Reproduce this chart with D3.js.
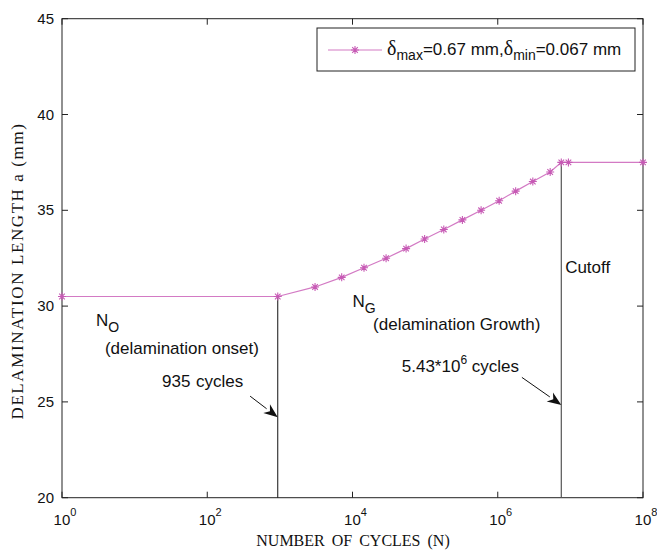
<!DOCTYPE html>
<html lang="en">
  <head>
    <meta charset="UTF-8" />
    <title>Delamination length vs cycles</title>
    <script src="https://cdn.jsdelivr.net/npm/d3@7"></script>
    <style>
      body { margin: 0; background: #fff; }
      svg { display: block; }
      .sans { font-family: Arial, "Liberation Sans", sans-serif; fill: #111; }
      .serif { font-family: "Times New Roman", "Liberation Serif", serif; fill: #111; }
    </style>
  </head>
  <body>
    <svg id="chart" width="657" height="550"></svg>
    <script>
      // cycles N and delamination length a (mm)
      const cycles = [1, 935, 3050, 7100, 14400, 29000, 54700, 98400, 180700, 326000,
                      590000, 1.045e6, 1.765e6, 3.04e6, 5.27e6, 7.5e6, 9.4e6, 1e8];
      const lengths = [30.5, 30.5, 31, 31.5, 32, 32.5, 33, 33.5, 34, 34.5,
                       35, 35.5, 36, 36.5, 37, 37.5, 37.5, 37.5];
      const xTicks = [1, 1e2, 1e4, 1e6, 1e8];
      const yTicks = [20, 25, 30, 35, 40, 45];

      // annotation anchors in data units
      const onsetN = 935, cutoffN = 7.5e6;
      const arrows = [
        { from: [389, 25.3], to: [935, 24.2] },
        { from: [2.15e6, 26.28], to: [7.5e6, 24.84] }
      ];

      const plotL = 62, plotR = 643, plotT = 18.7, plotB = 497.7;
      const lineColor = "#c75ab5";

      const svg = d3.select("#chart");
      const x = d3.scaleLog().domain([1, 1e8]).range([plotL, plotR]);
      const y = d3.scaleLinear().domain([20, 45]).range([plotB, plotT]);

      // frame
      svg.append("rect")
        .attr("x", plotL).attr("y", plotT)
        .attr("width", plotR - plotL).attr("height", plotB - plotT)
        .attr("fill", "none").attr("stroke", "#222").attr("stroke-width", 1);

      // inward ticks on all four sides
      const tickLen = 6;
      const g = svg.append("g").attr("stroke", "#222").attr("stroke-width", 1);
      xTicks.forEach(t => {
        g.append("line").attr("x1", x(t)).attr("x2", x(t)).attr("y1", plotB).attr("y2", plotB - tickLen);
        g.append("line").attr("x1", x(t)).attr("x2", x(t)).attr("y1", plotT).attr("y2", plotT + tickLen);
      });
      yTicks.forEach(t => {
        g.append("line").attr("x1", plotL).attr("x2", plotL + tickLen).attr("y1", y(t)).attr("y2", y(t));
        g.append("line").attr("x1", plotR).attr("x2", plotR - tickLen).attr("y1", y(t)).attr("y2", y(t));
      });

      // tick labels
      xTicks.forEach(t => {
        const lab = svg.append("text").attr("class", "sans")
          .attr("x", x(t) + 3).attr("y", plotB + 27)
          .attr("text-anchor", "middle").style("font-size", "15px");
        lab.append("tspan").text("10");
        lab.append("tspan").attr("dy", -9).style("font-size", "11px").text(Math.round(Math.log10(t)));
      });
      yTicks.forEach(t => {
        svg.append("text").attr("class", "sans")
          .attr("x", plotL - 8).attr("y", y(t) + 5)
          .attr("text-anchor", "end").style("font-size", "15px")
          .text(t);
      });

      // axis titles
      svg.append("text").attr("class", "serif")
        .attr("x", 353).attr("y", 546)
        .attr("text-anchor", "middle")
        .style("font-size", "16px").style("word-spacing", "3px")
        .text("NUMBER OF CYCLES (N)");
      svg.append("text").attr("class", "serif")
        .attr("transform", "translate(23,271) rotate(-90)")
        .attr("text-anchor", "middle")
        .style("font-size", "17px").style("letter-spacing", "1.6px")
        .text("DELAMINATION LENGTH a (mm)");

      // vertical markers
      svg.append("line")
        .attr("x1", x(onsetN)).attr("x2", x(onsetN))
        .attr("y1", y(30.5)).attr("y2", plotB)
        .attr("stroke", "#111").attr("stroke-width", 1);
      svg.append("line")
        .attr("x1", x(cutoffN)).attr("x2", x(cutoffN))
        .attr("y1", y(37.5)).attr("y2", plotB)
        .attr("stroke", "#555").attr("stroke-width", 1.2);

      // data line and asterisk markers
      const pts = cycles.map((c, i) => [c, lengths[i]]);
      const line = d3.line().x(d => x(d[0])).y(d => y(d[1]));
      svg.append("path")
        .attr("d", line(pts))
        .attr("fill", "none").attr("stroke", "#d37ac4").attr("stroke-width", 1.2);

      const star = "M-4,0L4,0M0,-4L0,4M-2.8,-2.8L2.8,2.8M-2.8,2.8L2.8,-2.8";
      svg.append("g").selectAll("path")
        .data(pts).join("path")
        .attr("transform", d => `translate(${x(d[0])},${y(d[1])})`)
        .attr("d", star)
        .attr("fill", "none").attr("stroke", lineColor).attr("stroke-width", 1.1);

      // arrows
      arrows.forEach(a => {
        const x1 = x(a.from[0]), y1 = y(a.from[1]);
        const x2 = x(a.to[0]), y2 = y(a.to[1]);
        const ang = Math.atan2(y2 - y1, x2 - x1);
        const hl = 14, hw = 5.5;
        const bx = x2 - hl * Math.cos(ang), by = y2 - hl * Math.sin(ang);
        svg.append("line")
          .attr("x1", x1).attr("y1", y1).attr("x2", bx).attr("y2", by)
          .attr("stroke", "#111").attr("stroke-width", 1);
        const p1 = [bx + hw * Math.sin(ang), by - hw * Math.cos(ang)];
        const p2 = [bx - hw * Math.sin(ang), by + hw * Math.cos(ang)];
        const mid = [x2 - hl * 0.7 * Math.cos(ang), y2 - hl * 0.7 * Math.sin(ang)];
        svg.append("path")
          .attr("d", `M${x2},${y2}L${p1}L${mid}L${p2}Z`)
          .attr("fill", "#111");
      });

      // annotations
      const ann = (n, a) => svg.append("text").attr("class", "sans")
        .attr("x", x(n)).attr("y", y(a)).style("font-size", "17px");

      const no = ann(2.94, 28.96);
      no.append("tspan").text("N");
      no.append("tspan").attr("dy", 6).style("font-size", "14px").text("O");
      ann(3.9, 27.5).text("(delamination onset)");
      ann(23.8, 25.78).text("935 cycles").style("word-spacing", "1px");

      const ng = ann(1.0e4, 29.95);
      ng.append("tspan").text("N");
      ng.append("tspan").attr("dy", 6).style("font-size", "14px").text("G");
      ann(19200, 28.75).text("(delamination Growth)");
      const c6 = ann(47700, 26.58);
      c6.append("tspan").text("5.43*10");
      c6.append("tspan").attr("dy", -8).style("font-size", "12px").text("6");
      c6.append("tspan").attr("dy", 8).text(" cycles");
      ann(8.47e6, 31.73).text("Cutoff");

      // legend
      const lx = 317, ly = 28, lw = 318, lh = 43;
      svg.append("rect")
        .attr("x", lx).attr("y", ly).attr("width", lw).attr("height", lh)
        .attr("fill", "#fff").attr("stroke", "#222").attr("stroke-width", 1);
      svg.append("line")
        .attr("x1", lx + 11).attr("x2", lx + 65)
        .attr("y1", ly + 22).attr("y2", ly + 22)
        .attr("stroke", "#d37ac4").attr("stroke-width", 1.2);
      svg.append("path")
        .attr("transform", `translate(${lx + 38},${ly + 22})`)
        .attr("d", star)
        .attr("fill", "none").attr("stroke", lineColor).attr("stroke-width", 1.1);
      const lt = svg.append("text").attr("class", "sans")
        .attr("x", lx + 70).attr("y", ly + 27).style("font-size", "17px");
      lt.append("tspan").style("font-size", "20px").style("font-family", "Liberation Serif, serif").text("δ");
      lt.append("tspan").attr("dy", 5).style("font-size", "14px").text("max");
      lt.append("tspan").attr("dy", -5).text("=0.67 mm,");
      lt.append("tspan").style("font-size", "20px").style("font-family", "Liberation Serif, serif").text("δ");
      lt.append("tspan").attr("dy", 5).style("font-size", "14px").text("min");
      lt.append("tspan").attr("dy", -5).text("=0.067 mm");
    </script>
  </body>
</html>
